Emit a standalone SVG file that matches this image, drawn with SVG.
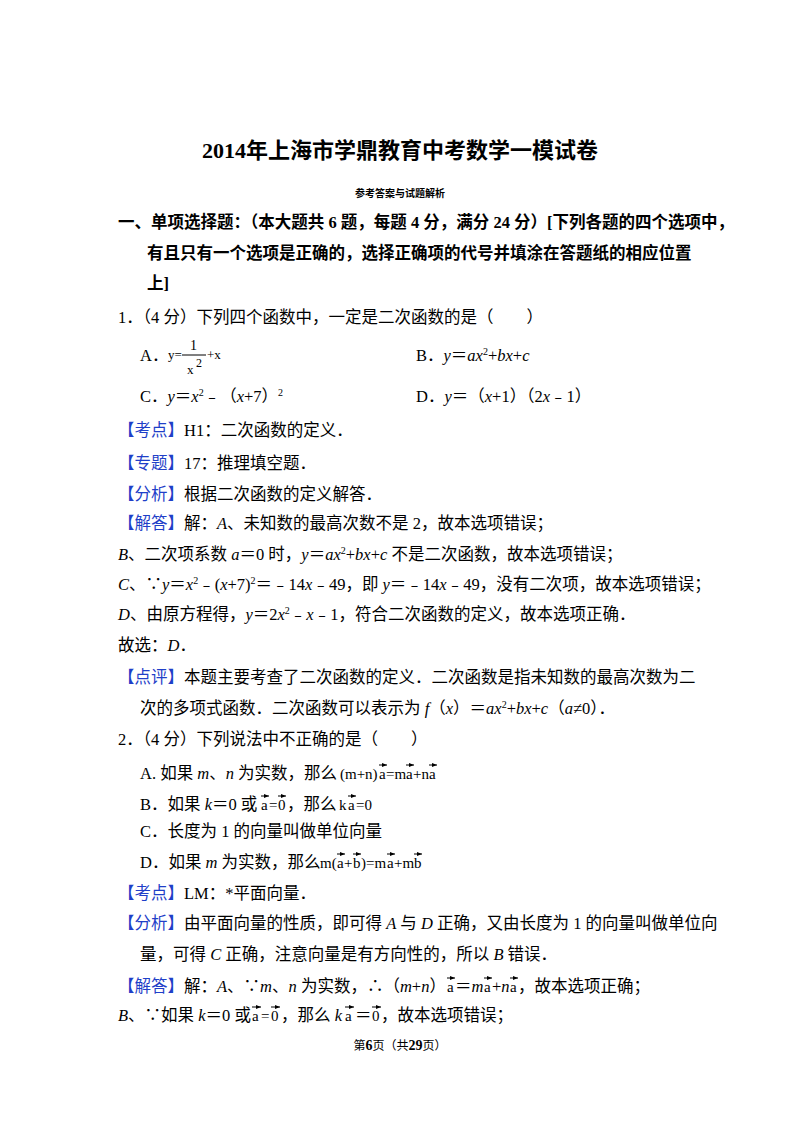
<svg xmlns="http://www.w3.org/2000/svg" width="800" height="1132" viewBox="0 0 800 1132">
<style>
text{font-family:"Liberation Serif","Noto Sans CJK SC",serif;font-size:16.5px;fill:#000}
.b{font-weight:bold}
.i{font-style:italic}
.k{fill:#1f3fc8}
.m{font-family:"Liberation Serif",serif;font-size:15px}
.v{stroke:#000;stroke-width:1;fill:none;marker-end:url(#ah)}
</style>
<defs><marker id="ah" markerWidth="5" markerHeight="4" refX="5" refY="2" orient="auto" markerUnits="userSpaceOnUse"><path d="M0,0L5,2L0,4z" fill="#000"/></marker></defs>
<rect width="800" height="1132" fill="#fff"/>
<text x="400" y="158" text-anchor="middle" class="b" style="font-size:22px">2014年上海市学鼎教育中考数学一模试卷</text>
<text x="400" y="197" text-anchor="middle" class="b" style="font-size:10px">参考答案与试题解析</text>
<text x="118" y="228" class="b">一、单项选择题：（本大题共 6 题，每题 4 分，满分 24 分）[下列各题的四个选项中，</text>
<text x="147" y="259" class="b">有且只有一个选项是正确的，选择正确项的代号并填涂在答题纸的相应位置</text>
<text x="147" y="289" class="b">上]</text>
<text x="118" y="323">1．（4 分）下列四个函数中，一定是二次函数的是（　　）</text>
<text x="140" y="361">A．</text>
<text x="168" y="359" style="font-size:13px">y=</text><line x1="182" y1="355" x2="206" y2="355" stroke="#000"/>
<text x="190" y="350" style="font-size:14px">1</text><text x="187" y="374" style="font-size:13px">x</text><text x="196" y="367" style="font-size:12px">2</text>
<text x="207" y="359" style="font-size:13px">+x</text>
<text x="416" y="361">B．<tspan class="i">y</tspan>＝<tspan class="i">ax</tspan><tspan dy="-6" style="font-size:10px">2</tspan><tspan dy="6">+</tspan><tspan class="i">bx</tspan>+<tspan class="i">c</tspan></text>
<text x="140" y="402">C．<tspan class="i">y</tspan>＝<tspan class="i">x</tspan><tspan dy="-6" style="font-size:10px">2</tspan><tspan dy="6">﹣（</tspan><tspan class="i">x</tspan>+7）<tspan dy="-6" style="font-size:10px">2</tspan></text>
<text x="416" y="402">D．<tspan class="i">y</tspan>＝（<tspan class="i">x</tspan>+1）（2<tspan class="i">x</tspan>﹣1）</text>
<text x="118" y="436"><tspan class="k">【考点】</tspan>H1：二次函数的定义．</text>
<text x="118" y="469"><tspan class="k">【专题】</tspan>17：推理填空题．</text>
<text x="118" y="500"><tspan class="k">【分析】</tspan>根据二次函数的定义解答．</text>
<text x="118" y="529"><tspan class="k">【解答】</tspan>解：<tspan class="i">A</tspan>、未知数的最高次数不是 2，故本选项错误；</text>
<text x="118" y="560"><tspan class="i">B</tspan>、二次项系数 <tspan class="i">a</tspan>＝0 时，<tspan class="i">y</tspan>＝<tspan class="i">ax</tspan><tspan dy="-6" style="font-size:10px">2</tspan><tspan dy="6">+</tspan><tspan class="i">bx</tspan>+<tspan class="i">c</tspan> 不是二次函数，故本选项错误；</text>
<text x="118" y="590"><tspan class="i">C</tspan>、∵<tspan class="i">y</tspan>＝<tspan class="i">x</tspan><tspan dy="-6" style="font-size:10px">2</tspan><tspan dy="6">﹣(</tspan><tspan class="i">x</tspan>+7)<tspan dy="-6" style="font-size:10px">2</tspan><tspan dy="6">＝﹣14</tspan><tspan class="i">x</tspan>﹣49，即 <tspan class="i">y</tspan>＝﹣14<tspan class="i">x</tspan>﹣49，没有二次项，故本选项错误；</text>
<text x="118" y="620"><tspan class="i">D</tspan>、由原方程得，<tspan class="i">y</tspan>＝2<tspan class="i">x</tspan><tspan dy="-6" style="font-size:10px">2</tspan><tspan dy="6">﹣</tspan><tspan class="i">x</tspan>﹣1，符合二次函数的定义，故本选项正确．</text>
<text x="118" y="651">故选：<tspan class="i">D</tspan>．</text>
<text x="118" y="683"><tspan class="k">【点评】</tspan>本题主要考查了二次函数的定义．二次函数是指未知数的最高次数为二</text>
<text x="140" y="714">次的多项式函数．二次函数可以表示为 <tspan class="i">f</tspan>（<tspan class="i">x</tspan>）＝<tspan class="i">ax</tspan><tspan dy="-6" style="font-size:10px">2</tspan><tspan dy="6">+</tspan><tspan class="i">bx</tspan>+<tspan class="i">c</tspan>（<tspan class="i">a</tspan>≠0）．</text>
<text x="118" y="745">2．（4 分）下列说法中不正确的是（　　）</text>

<text x="140" y="779">A. 如果 <tspan class="i">m</tspan>、<tspan class="i">n</tspan> 为实数，那么</text>
<text x="340" y="779" class="m">(m+n)</text><text x="379" y="779" class="m">a</text><text x="386" y="779" class="m">=m</text><text x="406" y="779" class="m">a</text><text x="413" y="779" class="m">+n</text><text x="429" y="779" class="m">a</text>
<line class="v" x1="379" y1="765" x2="387" y2="765"/><line class="v" x1="406" y1="765" x2="414" y2="765"/><line class="v" x1="429" y1="765" x2="437" y2="765"/>

<text x="140" y="810">B．如果 <tspan class="i">k</tspan>＝0 或</text>
<text x="261" y="810" class="m">a</text><text x="269" y="810" class="m">=</text><text x="278" y="810" class="m">0</text>
<text x="287" y="810">，那么</text>
<text x="339" y="810" class="m">k</text><text x="348" y="810" class="m">a</text><text x="356" y="810" class="m">=0</text>
<line class="v" x1="261" y1="796" x2="269" y2="796"/><line class="v" x1="278" y1="796" x2="286" y2="796"/><line class="v" x1="348" y1="796" x2="356" y2="796"/>

<text x="140" y="837">C．长度为 1 的向量叫做单位向量</text>

<text x="140" y="868">D．如果 <tspan class="i">m</tspan> 为实数，那么</text>
<text x="320" y="868" class="m">m(</text><text x="337" y="868" class="m">a</text><text x="344" y="868" class="m">+</text><text x="353" y="868" class="m">b</text><text x="361" y="868" class="m">)=m</text><text x="387" y="868" class="m">a</text><text x="394" y="868" class="m">+m</text><text x="414" y="868" class="m">b</text>
<line class="v" x1="337" y1="854" x2="345" y2="854"/><line class="v" x1="353" y1="854" x2="361" y2="854"/><line class="v" x1="387" y1="854" x2="395" y2="854"/><line class="v" x1="414" y1="854" x2="422" y2="854"/>

<text x="118" y="899"><tspan class="k">【考点】</tspan>LM：*平面向量．</text>
<text x="118" y="929"><tspan class="k">【分析】</tspan>由平面向量的性质，即可得 <tspan class="i">A</tspan> 与 <tspan class="i">D</tspan> 正确，又由长度为 1 的向量叫做单位向</text>
<text x="140" y="960">量，可得 <tspan class="i">C</tspan> 正确，注意向量是有方向性的，所以 <tspan class="i">B</tspan> 错误．</text>

<text x="118" y="992"><tspan class="k">【解答】</tspan>解：<tspan class="i">A</tspan>、∵<tspan class="i">m</tspan>、<tspan class="i">n</tspan> 为实数，∴（<tspan class="i">m</tspan>+<tspan class="i">n</tspan>）</text>
<text x="447" y="992" class="m">a</text><text x="455" y="992">＝<tspan class="i">m</tspan></text><text x="484" y="992" class="m">a</text><text x="492" y="992">+<tspan class="i">n</tspan></text><text x="510" y="992" class="m">a</text>
<text x="518" y="992">，故本选项正确；</text>
<line class="v" x1="447" y1="978" x2="455" y2="978"/><line class="v" x1="484" y1="978" x2="492" y2="978"/><line class="v" x1="510" y1="978" x2="518" y2="978"/>

<text x="118" y="1021"><tspan class="i">B</tspan>、∵如果 <tspan class="i">k</tspan>＝0 或</text>
<text x="252" y="1021" class="m">a</text><text x="261" y="1021" class="m">=</text><text x="271" y="1021" class="m">0</text>
<text x="281" y="1021">，那么 <tspan class="i">k</tspan></text>
<text x="345" y="1021" class="m">a</text><text x="355" y="1021">＝</text><text x="372" y="1021" class="m">0</text>
<text x="381" y="1021">，故本选项错误；</text>
<line class="v" x1="252" y1="1007" x2="261" y2="1007"/><line class="v" x1="271" y1="1007" x2="280" y2="1007"/><line class="v" x1="345" y1="1007" x2="354" y2="1007"/><line class="v" x1="372" y1="1007" x2="381" y2="1007"/>

<text x="400" y="1050" text-anchor="middle" style="font-size:12px">第<tspan class="b" style="font-size:14px">6</tspan>页（共<tspan class="b" style="font-size:14px">29</tspan>页）</text>
</svg>
